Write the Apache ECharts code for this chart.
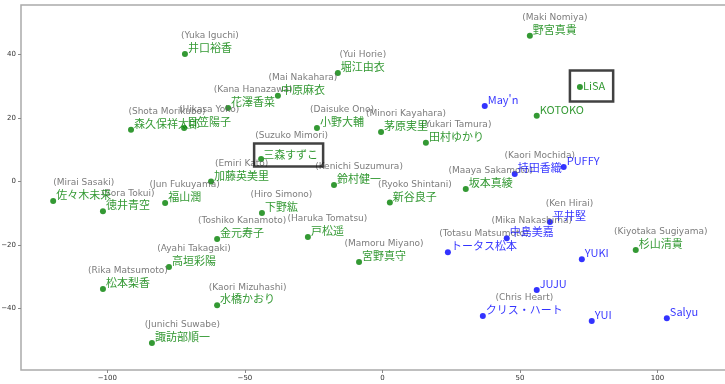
<!DOCTYPE html>
<html lang="ja">
<head>
    <meta charset="UTF-8">
    <title>scatter</title>
    <script src="https://cdn.jsdelivr.net/npm/echarts@6/dist/echarts.min.js"></script>
    <style>
        html, body { margin: 0; padding: 0; background: #fff; }
        #main { width: 725px; height: 384px; }
    </style>
</head>
<body>
<div id="main"></div>
<script>
    // green group
    var greenNames = ['井口裕香', '花澤香菜', '森久保祥太郎', '日笠陽子', '加藤英美里', '佐々木未来', '徳井青空',
        '福山潤', '金元寿子', '高垣彩陽', '松本梨香', '水橋かおり', '諏訪部順一', '堀江由衣', '中原麻衣',
        '小野大輔', '茅原実里', '田村ゆかり', '三森すずこ', '鈴村健一', '坂本真綾', '新谷良子', '下野紘',
        '戸松遥', '宮野真守', '野宮真貴', 'LiSA', 'KOTOKO', '杉山清貴'];
    var greenRomaji = ['(Yuka Iguchi)', '(Kana Hanazawa)', '(Shota Morikubo)', '(Hikasa Yoko)', '(Emiri Kato)',
        '(Mirai Sasaki)', '(Sora Tokui)', '(Jun Fukuyama)', '(Toshiko Kanamoto)', '(Ayahi Takagaki)',
        '(Rika Matsumoto)', '(Kaori Mizuhashi)', '(Junichi Suwabe)', '(Yui Horie)', '(Mai Nakahara)',
        '(Daisuke Ono)', '(Minori Kayahara)', '(Yukari Tamura)', '(Suzuko Mimori)', '(Kenichi Suzumura)',
        '(Maaya Sakamoto)', '(Ryoko Shintani)', '(Hiro Simono)', '(Haruka Tomatsu)', '(Mamoru Miyano)',
        '(Maki Nomiya)', '', '', '(Kiyotaka Sugiyama)'];
    var greenX = [-71.8, -56.1, -91.4, -72.1, -62.3, -119.7, -101.6, -79.0, -60.1, -77.6, -101.6, -60.1, -83.8,
        -16.2, -38.0, -23.8, -0.5, 15.8, -44.1, -17.6, 30.3, 2.7, -43.8, -27.1, -8.5, 53.6, 71.8, 56.1, 92.1];
    var greenY = [40.1, 23.1, 16.2, 16.8, -0.1, -6.2, -9.4, -6.8, -18.2, -27.0, -33.9, -39.0, -50.9,
        34.1, 26.9, 16.8, 15.5, 12.1, 7.0, -1.2, -2.4, -6.7, -10.0, -17.5, -25.4, 45.8, 29.7, 20.6, -21.6];

    // blue group
    var blueNames = ["May'n", '持田香織', 'PUFFY', '平井堅', '中島美嘉', 'トータス松本', 'YUKI', 'JUJU',
        'クリス・ハート', 'YUI', 'Salyu'];
    var blueRomaji = ['', '(Kaori Mochida)', '', '(Ken Hirai)', '(Mika Nakashima)', '(Totasu Matsumoto)',
        '', '', '(Chris Heart)', '', ''];
    var blueX = [37.2, 48.1, 65.9, 60.9, 45.2, 23.8, 72.5, 56.1, 36.5, 76.1, 103.4];
    var blueY = [23.7, 2.3, 4.5, -12.8, -17.9, -22.3, -24.5, -34.2, -42.4, -44.0, -43.1];

    var xTicks = [-100, -50, 0, 50, 100];
    var yTicks = [-40, -20, 0, 20, 40];

    // names drawn with a black frame
    var boxedNames = ['LiSA', '三森すずこ'];

    var jpFont = '"Noto Sans CJK JP", "Noto Sans CJK SC", sans-serif';
    var measureCtx = document.createElement('canvas').getContext('2d');
    measureCtx.font = '11px ' + jpFont;
    function textWidth(s) {
        return measureCtx.measureText(s).width;
    }

    function boxLabel(name) {
        if (name === 'LiSA') {
            return {padding: [5, 8, 15, 13], offset: [-13, -1], borderColor: '#111', borderWidth: 2.5};
        }
        return {padding: [4, 5, 8, 9], offset: [-10, -4], borderColor: '#111', borderWidth: 2.5};
    }

    function pointSeries(names, xs, ys, color) {
        return {
            type: 'scatter',
            symbolSize: 6,
            itemStyle: {color: color},
            emphasis: {disabled: true},
            label: {
                show: true,
                position: 'right',
                distance: 0,
                offset: [0, -6],
                formatter: '{b}',
                color: color,
                fontSize: 11,
                fontFamily: jpFont
            },
            data: names.map(function (n, i) {
                var item = {name: n, value: [xs[i], ys[i]]};
                if (boxedNames.indexOf(n) >= 0) item.label = boxLabel(n);
                return item;
            })
        };
    }

    function romajiSeries(names, romaji, xs, ys) {
        var data = [];
        for (var i = 0; i < names.length; i++) {
            if (!romaji[i]) continue;
            var up = boxedNames.indexOf(names[i]) >= 0 ? -23 : -18;
            data.push({
                name: romaji[i],
                value: [xs[i], ys[i]],
                label: {offset: [3 + textWidth(names[i]) / 2, up]}
            });
        }
        return {
            type: 'scatter',
            symbolSize: 1,
            silent: true,
            itemStyle: {color: 'rgba(0,0,0,0)'},
            label: {
                show: true,
                position: 'inside',
                formatter: '{b}',
                color: '#5a5a5a',
                fontSize: 9,
                fontFamily: 'DejaVu Sans'
            },
            data: data
        };
    }

    function minus(v) {
        return String(v).replace('-', '\u2212');
    }

    var myChart = echarts.init(document.getElementById('main'));
    var option = {
        animation: false,
        grid: {
            left: 21, right: -15, top: 5, bottom: 14,
            outerBoundsMode: 'none',
            containLabel: false,
            show: true, borderColor: '#aaa', borderWidth: 1.5
        },
        xAxis: {
            type: 'value',
            min: -131.4,
            max: 130,
            splitLine: {show: false},
            axisLine: {show: false, onZero: false},
            axisTick: {show: true, length: 3, lineStyle: {color: '#888'}, customValues: xTicks},
            axisLabel: {customValues: xTicks, fontSize: 7, color: '#333', margin: 5,
                fontFamily: 'DejaVu Sans', formatter: minus}
        },
        yAxis: {
            type: 'value',
            min: -59.4,
            max: 55.5,
            splitLine: {show: false},
            axisLine: {show: false, onZero: false},
            axisTick: {show: true, length: 3, lineStyle: {color: '#888'}, customValues: yTicks},
            axisLabel: {customValues: yTicks, fontSize: 7, color: '#333', margin: 5,
                fontFamily: 'DejaVu Sans', formatter: minus}
        },
        series: [
            romajiSeries(greenNames, greenRomaji, greenX, greenY),
            romajiSeries(blueNames, blueRomaji, blueX, blueY),
            pointSeries(greenNames, greenX, greenY, '#008000'),
            pointSeries(blueNames, blueX, blueY, '#0000ff')
        ]
    };
    myChart.setOption(option);
</script>
</body>
</html>
